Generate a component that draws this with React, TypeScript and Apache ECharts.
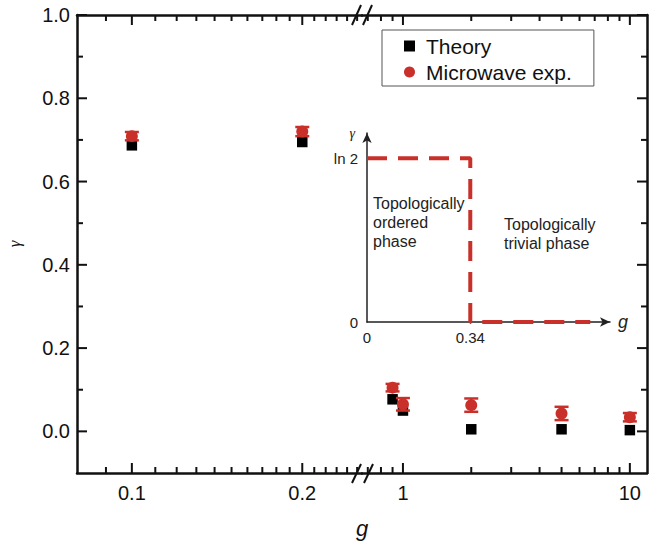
import React, { useEffect, useRef } from 'react';
import * as echarts from 'echarts';

// ---- data ----
const gValues = [0.1, 0.2, 0.9, 1, 2, 5, 10];
const theory = [0.687, 0.695, 0.077, 0.05, 0.005, 0.005, 0.003];
const experiment = [0.709, 0.72, 0.105, 0.065, 0.063, 0.043, 0.034];
const expError = [0.01, 0.011, 0.009, 0.015, 0.016, 0.016, 0.01];

const yMajorTicks = [0, 0.2, 0.4, 0.6, 0.8, 1.0];
const yMinorTicks = [0.1, 0.3, 0.5, 0.7, 0.9];
const leftMajorTicks = [0.1, 0.2];
const leftMinorTicks = [0.09, 0.11, 0.12, 0.13, 0.14, 0.15, 0.16, 0.17, 0.18, 0.19, 0.21, 0.22, 0.23, 0.24, 0.25];
const rightMajorTicks = [1, 10];
const rightMinorTicks = [0.7, 0.8, 0.9, 2, 3, 4, 5, 6, 7, 8, 9];
const leftRange = [0.08, 0.255];
const rightRange = [0.66, 11.9];
const yRange = [-0.1, 1.0];
const splitG = 0.5;

const insetG = [0, 0.34, 0.34, 0.735];
const insetGamma = [0.693, 0.693, 0, 0];
const insetXTicks = [0, 0.34];
const insetXLabels = ['0', '0.34'];
const insetYTicks = [0, 0.693];
const insetYLabels = ['0', 'ln 2'];

const RED = '#c9302a';
const INK = '#111';
const FONT = 'Liberation Sans';

export default function App() {
  const ref = useRef<HTMLDivElement>(null);
  useEffect(() => {
    if (!ref.current) return;
    const chart = echarts.init(ref.current, undefined, { renderer: 'svg' });

    const leftIdx = gValues.map((g, i) => i).filter((i) => gValues[i] < splitG);
    const rightIdx = gValues.map((g, i) => i).filter((i) => gValues[i] >= splitG);

    const frameLine = { color: INK, width: 2.5 };

    const xAxisFor = (gridIndex: number, range: number[], position: string, ticks: number[] | null) => ({
      type: 'log',
      logBase: 10,
      gridIndex,
      min: range[0],
      max: range[1],
      position,
      splitLine: { show: false },
      axisLine: { show: true, onZero: false, lineStyle: frameLine },
      axisTick: { show: false },
      axisLabel: ticks
        ? { show: true, customValues: ticks, formatter: (v: number) => String(v), fontSize: 20, fontFamily: FONT, color: INK, margin: 10 }
        : { show: false },
    });

    const yAxisFor = (gridIndex: number, position: string, labels: boolean) => ({
      type: 'value',
      gridIndex,
      min: yRange[0],
      max: yRange[1],
      position,
      splitLine: { show: false },
      axisLine: { show: true, onZero: false, lineStyle: frameLine },
      axisTick: { show: false },
      axisLabel: labels
        ? { customValues: yMajorTicks, formatter: (v: number) => v.toFixed(1), fontSize: 20, fontFamily: FONT, color: INK, margin: 7 }
        : { show: false },
    });

    const st = { stroke: INK, lineWidth: 2 };
    // x ticks of the broken log axis (bottom and top, pointing inward)
    const xTickSeries = (xi: number, yi: number, ticks: number[], len: number) => ({
      type: 'custom',
      xAxisIndex: xi,
      yAxisIndex: yi,
      silent: true,
      z: 5,
      encode: { x: 0, y: 1 },
      data: ticks.map((v) => [v, 0.5]),
      renderItem: (params: any, api: any) => {
        const cs = params.coordSys;
        const x = api.coord([api.value(0), api.value(1)])[0];
        return {
          type: 'group',
          children: [
            { type: 'line', shape: { x1: x, y1: cs.y + cs.height, x2: x, y2: cs.y + cs.height - len }, style: st },
            { type: 'line', shape: { x1: x, y1: cs.y, x2: x, y2: cs.y + len }, style: st },
          ],
        };
      },
    });
    // y ticks on the outer frame side (left for grid 0, right for grid 1), pointing inward
    const yTickSeries = (xi: number, yi: number, xRef: number, ticks: number[], len: number, side: 'left' | 'right') => ({
      type: 'custom',
      xAxisIndex: xi,
      yAxisIndex: yi,
      silent: true,
      z: 5,
      encode: { x: 0, y: 1 },
      data: ticks.map((v) => [xRef, v]),
      renderItem: (params: any, api: any) => {
        const cs = params.coordSys;
        const y = api.coord([api.value(0), api.value(1)])[1];
        const x0 = side === 'left' ? cs.x : cs.x + cs.width;
        const x1 = side === 'left' ? x0 + len : x0 - len;
        return { type: 'line', shape: { x1: x0, y1: y, x2: x1, y2: y }, style: st };
      },
    });

    const errorRender = (params: any, api: any) => {
      const lo = api.coord([api.value(0), api.value(1)]);
      const hi = api.coord([api.value(0), api.value(2)]);
      const hw = 7;
      const es = { stroke: RED, lineWidth: 2.5 };
      return {
        type: 'group',
        children: [
          { type: 'line', shape: { x1: lo[0], y1: lo[1], x2: hi[0], y2: hi[1] }, style: es },
          { type: 'line', shape: { x1: lo[0] - hw, y1: lo[1], x2: lo[0] + hw, y2: lo[1] }, style: es },
          { type: 'line', shape: { x1: hi[0] - hw, y1: hi[1], x2: hi[0] + hw, y2: hi[1] }, style: es },
        ],
      };
    };

    const seriesFor = (idx: number[], xi: number, yi: number) => [
      {
        type: 'scatter',
        name: 'Theory',
        xAxisIndex: xi,
        yAxisIndex: yi,
        symbol: 'rect',
        symbolSize: 10.5,
        itemStyle: { color: '#000', opacity: 1 },
        data: idx.map((i) => [gValues[i], theory[i]]),
        z: 3,
      },
      {
        type: 'custom',
        name: 'Microwave exp.',
        xAxisIndex: xi,
        yAxisIndex: yi,
        renderItem: errorRender,
        encode: { x: 0, y: [1, 2] },
        itemStyle: { color: RED },
        data: idx.map((i) => [gValues[i], experiment[i] - expError[i], experiment[i] + expError[i]]),
        z: 4,
      },
      {
        type: 'scatter',
        name: 'Microwave exp.',
        xAxisIndex: xi,
        yAxisIndex: yi,
        symbol: 'circle',
        symbolSize: 12,
        itemStyle: { color: RED, opacity: 1 },
        data: idx.map((i) => [gValues[i], experiment[i]]),
        z: 4,
      },
    ];

    const insetLabel = { fontSize: 15, fontFamily: FONT, color: '#222' };
    const slash = (x1: number, y1: number, x2: number, y2: number) => ({
      type: 'line',
      shape: { x1, y1, x2, y2 },
      style: { stroke: INK, lineWidth: 2 },
      z: 100,
    });

    chart.setOption({
      animation: false,
      backgroundColor: '#fff',
      grid: [
        { left: 77, top: 15, width: 285, height: 458 },
        { left: 362, top: 15, width: 285, height: 458 },
        { left: 367, top: 133, width: 243, height: 189 },
      ],
      xAxis: [
        xAxisFor(0, leftRange, 'bottom', leftMajorTicks),
        xAxisFor(0, leftRange, 'top', null),
        xAxisFor(1, rightRange, 'bottom', rightMajorTicks),
        xAxisFor(1, rightRange, 'top', null),
        {
          type: 'value',
          gridIndex: 2,
          min: 0,
          max: 0.8,
          splitLine: { show: false },
          axisLine: { show: true, onZero: false, symbol: ['none', 'arrow'], symbolSize: [7, 10], lineStyle: { color: '#222', width: 1.5 } },
          axisTick: { show: false },
          axisLabel: {
            ...insetLabel,
            margin: 8,
            customValues: insetXTicks,
            formatter: (v: number) => insetXLabels[insetXTicks.indexOf(v)] ?? '',
          },
          name: 'g',
          nameLocation: 'end',
          nameGap: 8,
          nameTextStyle: { fontSize: 18, fontStyle: 'italic', fontFamily: FONT, color: '#222', verticalAlign: 'middle' },
        },
      ],
      yAxis: [
        {
          ...yAxisFor(0, 'left', true),
          name: 'γ',
          nameLocation: 'middle',
          nameGap: 54,
          nameTextStyle: { fontSize: 17, fontStyle: 'italic', fontFamily: 'Liberation Serif', color: INK },
        },
        yAxisFor(1, 'right', false),
        {
          type: 'value',
          gridIndex: 2,
          min: 0,
          max: 0.8,
          splitLine: { show: false },
          axisLine: { show: true, onZero: false, symbol: ['none', 'arrow'], symbolSize: [7, 10], lineStyle: { color: '#222', width: 1.5 } },
          axisTick: { show: false },
          axisLabel: {
            ...insetLabel,
            margin: 9,
            customValues: insetYTicks,
            formatter: (v: number) => insetYLabels[insetYTicks.indexOf(v)] ?? '',
          },
          name: 'γ',
          nameLocation: 'end',
          nameGap: 0,
          nameTextStyle: { fontSize: 14, fontStyle: 'italic', fontFamily: 'Liberation Serif', color: '#222', align: 'right', verticalAlign: 'middle', padding: [0, 12, 0, 0] },
        },
      ],
      legend: {
        orient: 'vertical',
        left: 382,
        top: 30,
        data: [
          { name: 'Theory', icon: 'rect' },
          { name: 'Microwave exp.', icon: 'circle' },
        ],
        itemWidth: 11,
        itemHeight: 11,
        itemGap: 4,
        padding: [5, 22, 3, 22],
        borderColor: '#555',
        borderWidth: 1,
        selectedMode: false,
        textStyle: { fontSize: 21, fontFamily: FONT, color: INK, lineHeight: 22, padding: [0, 0, 0, 6] },
      },
      series: [
        xTickSeries(0, 0, leftMajorTicks, 10),
        xTickSeries(0, 0, leftMinorTicks, 6),
        xTickSeries(2, 1, rightMajorTicks, 10),
        xTickSeries(2, 1, rightMinorTicks, 6),
        yTickSeries(0, 0, leftMajorTicks[0], yMajorTicks, 10, 'left'),
        yTickSeries(0, 0, leftMajorTicks[0], yMinorTicks, 6, 'left'),
        yTickSeries(2, 1, rightMajorTicks[0], yMajorTicks, 10, 'right'),
        yTickSeries(2, 1, rightMajorTicks[0], yMinorTicks, 6, 'right'),
        ...seriesFor(leftIdx, 0, 0),
        ...seriesFor(rightIdx, 2, 1),
        {
          type: 'line',
          name: 'phase',
          xAxisIndex: 4,
          yAxisIndex: 2,
          symbol: 'none',
          lineStyle: { color: RED, width: 4, type: [20, 11] },
          data: insetG.map((g, i) => [g, insetGamma[i]]),
        },
      ],
      graphic: [
        slash(352, 25, 361, 5),
        slash(363, 25, 372, 5),
        slash(352, 483, 361, 464),
        slash(364, 483, 373, 464),
        {
          type: 'text',
          x: 362,
          y: 528,
          style: { text: 'g', fontSize: 22, fontStyle: 'italic', fontFamily: FONT, fill: INK, align: 'center', verticalAlign: 'middle' },
        },
        {
          type: 'text',
          x: 373,
          y: 194,
          style: { text: 'Topologically\nordered\nphase', fontSize: 16, fontFamily: FONT, fill: '#222', lineHeight: 19, verticalAlign: 'top' },
        },
        {
          type: 'text',
          x: 504,
          y: 215,
          style: { text: 'Topologically\ntrivial phase', fontSize: 16, fontFamily: FONT, fill: '#222', lineHeight: 19, verticalAlign: 'top' },
        },
      ],
    });
    return () => chart.dispose();
  }, []);
  return <div ref={ref} style={{ position: 'absolute', left: 0, top: 0, width: 656, height: 541, background: '#fff' }} />;
}
